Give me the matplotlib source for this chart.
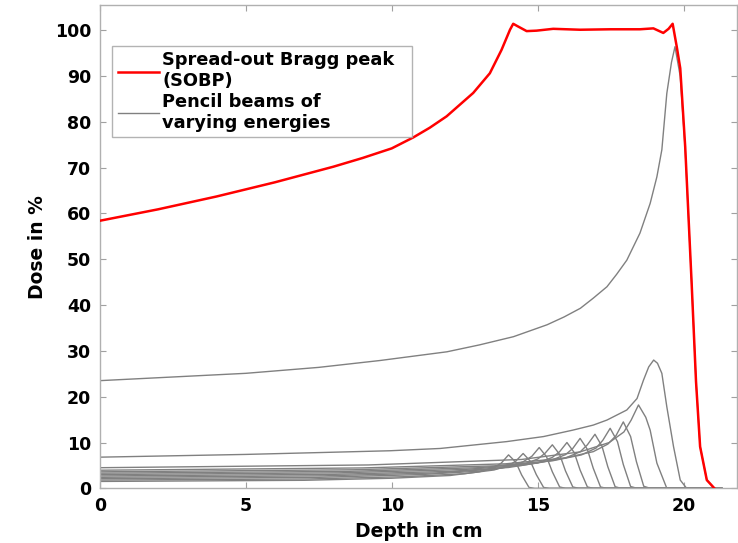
import matplotlib
matplotlib.use("Agg")
import matplotlib.pyplot as plt

# depth (cm) / dose (%), one pair per pencil beam
b01_depth = [0, 7.0, 10.0, 12.0, 13.0, 13.5, 13.75, 14.0, 14.25, 14.45, 14.7, 14.9, 21.3]
b01_dose = [1.5, 1.75, 2.2, 2.8, 3.6, 4.5, 5.5, 7.3, 5.7, 2.9, 0.2, 0, 0]

b02_depth = [0, 7.2, 10.5, 12.5, 13.5, 14.0, 14.25, 14.5, 14.75, 14.95, 15.2, 15.4, 21.3]
b02_dose = [1.8, 2.05, 2.55, 3.2, 4.0, 4.95, 5.95, 7.6, 5.9, 3.0, 0.2, 0, 0]

b03_depth = [0, 7.5, 11.0, 13.0, 14.0, 14.5, 14.8, 15.05, 15.3, 15.5, 15.75, 15.95, 21.3]
b03_dose = [2.1, 2.4, 3.0, 3.75, 4.7, 5.8, 7.0, 8.9, 6.9, 3.6, 0.3, 0, 0]

b04_depth = [0, 7.7, 11.5, 13.5, 14.5, 15.0, 15.25, 15.5, 15.75, 15.95, 16.2, 16.4, 21.3]
b04_dose = [2.4, 2.73, 3.35, 4.2, 5.2, 6.4, 7.65, 9.5, 7.4, 3.8, 0.3, 0, 0]

b05_depth = [0, 8.0, 12.0, 14.0, 15.0, 15.5, 15.75, 16.0, 16.25, 16.45, 16.7, 16.9, 21.3]
b05_dose = [2.7, 3.05, 3.7, 4.55, 5.55, 6.75, 8.0, 10.0, 7.8, 4.0, 0.3, 0, 0]

b06_depth = [0, 8.2, 12.45, 14.45, 15.45, 15.95, 16.2, 16.45, 16.7, 16.9, 17.15, 17.35, 21.3]
b06_dose = [3.0, 3.38, 4.1, 5.0, 6.1, 7.35, 8.7, 10.9, 8.5, 4.4, 0.3, 0, 0]

b07_depth = [0, 8.5, 12.96, 14.96, 15.96, 16.46, 16.7, 16.96, 17.2, 17.4, 17.65, 17.85, 21.3]
b07_dose = [3.3, 3.7, 4.5, 5.5, 6.65, 8.0, 9.5, 11.8, 9.2, 4.7, 0.35, 0, 0]

b08_depth = [0, 8.7, 13.5, 15.5, 16.5, 17.0, 17.23, 17.48, 17.73, 17.93, 18.18, 18.4, 21.3]
b08_dose = [3.6, 4.05, 4.9, 6.0, 7.3, 8.8, 10.5, 13.1, 10.2, 5.2, 0.4, 0, 0]

b09_depth = [0, 9.0, 13.9, 15.9, 16.9, 17.4, 17.68, 17.93, 18.18, 18.38, 18.63, 18.85, 21.3]
b09_dose = [3.95, 4.45, 5.35, 6.6, 8.0, 9.65, 11.5, 14.5, 11.3, 5.8, 0.45, 0, 0]

b10_depth = [0, 9.2, 14.45, 16.45, 17.45, 17.95, 18.2, 18.45, 18.7, 18.85, 19.08, 19.42, 21.3]
b10_dose = [4.5, 5.1, 6.3, 7.95, 10.0, 12.3, 14.9, 18.2, 15.5, 12.7, 5.5, 0, 0]

b11_depth = [0, 2.5, 5, 7.5, 9.94, 11.66, 13.94, 15.2, 16.2, 16.9, 17.37, 18.05, 18.4,
             18.62, 18.8, 18.97, 19.1, 19.25, 19.42, 19.65, 19.88, 20.1, 21.3]
b11_dose = [6.8, 7.1, 7.4, 7.8, 8.2, 8.7, 10.2, 11.3, 12.7, 13.8, 14.9, 17.1, 19.6,
            23.6, 26.5, 28.0, 27.3, 25.1, 17.8, 9.1, 1.8, 0, 0]

b12_depth = [0, 2.5, 5, 7.5, 9.6, 11.89, 13.0, 14.17, 15.32, 15.9, 16.46, 16.9, 17.37,
             17.7, 18.05, 18.5, 18.85, 19.08, 19.25, 19.42, 19.58, 19.7, 19.88, 20.05,
             20.27, 20.42, 20.56, 20.79, 21.05, 21.3]
b12_dose = [23.5, 24.3, 25.1, 26.4, 27.9, 29.8, 31.3, 33.1, 35.7, 37.4, 39.3, 41.5, 44.0,
            46.7, 49.8, 55.7, 62.2, 68.0, 73.9, 86.2, 93.0, 96.4, 89.9, 74.0,
            44.8, 23.3, 9.1, 1.8, 0, 0]

# spread-out Bragg peak
sobp_depth = [0, 2, 4, 6, 8, 9, 10, 10.74, 11.3, 11.88, 12.79, 13.36, 13.76, 14.05,
              14.16, 14.3, 14.62, 14.96, 15.53, 16.45, 17.5, 18.5, 18.96, 19.3, 19.48,
              19.62, 19.76, 19.88, 20.05, 20.27, 20.42, 20.56, 20.79, 21.05]
sobp_dose = [58.4, 60.9, 63.7, 66.8, 70.2, 72.1, 74.2, 76.6, 78.7, 81.2, 86.3, 90.6, 95.7,
             100.1, 101.4, 100.9, 99.8, 99.9, 100.3, 100.1, 100.2, 100.2, 100.4, 99.4,
             100.3, 101.4, 96.4, 91.7, 74.5, 44.8, 23.3, 9.1, 1.8, 0]

beams = [
    (b01_depth, b01_dose), (b02_depth, b02_dose), (b03_depth, b03_dose),
    (b04_depth, b04_dose), (b05_depth, b05_dose), (b06_depth, b06_dose),
    (b07_depth, b07_dose), (b08_depth, b08_dose), (b09_depth, b09_dose),
    (b10_depth, b10_dose), (b11_depth, b11_dose), (b12_depth, b12_dose),
]

x_ticks = [0, 5, 10, 15, 20]
y_ticks = [0, 10, 20, 30, 40, 50, 60, 70, 80, 90, 100]

fig = plt.figure(figsize=(7.38, 5.43), dpi=100)
ax = fig.add_axes([0.1351, 0.1007, 0.8642, 0.8901])

grey = "#808080"
for i, (d, v) in enumerate(beams):
    ax.plot(d, v, color=grey, lw=1.0,
            label="Pencil beams of\nvarying energies" if i == 0 else None)
ax.plot(sobp_depth, sobp_dose, color="#ff0000", lw=1.8,
        label="Spread-out Bragg peak  \n(SOBP)", zorder=5)

ax.set_xlim(0, 21.84)
ax.set_ylim(0, 105.5)
ax.set_xticks(x_ticks)
ax.set_yticks(y_ticks)
ax.tick_params(direction="in", top=True, right=True, length=4, color="#a0a0a0",
               labelsize=12.5, pad=6)
for lab in ax.get_xticklabels() + ax.get_yticklabels():
    lab.set_fontweight("bold")
for s in ax.spines.values():
    s.set_color("#b0b0b0")
    s.set_linewidth(1.0)

ax.set_xlabel("Depth in cm", fontsize=13.5, fontweight="bold", labelpad=5)
ax.set_ylabel("Dose in %", fontsize=13.5, fontweight="bold", labelpad=6)

h, l = ax.get_legend_handles_labels()
leg = ax.legend(h[::-1], l[::-1], loc="upper left", bbox_to_anchor=(0.02, 0.915),
                prop={"weight": "bold", "size": 12.8}, frameon=True, fancybox=False,
                edgecolor="#a0a0a0", handlelength=2.3, handletextpad=0.2,
                borderpad=0.3, labelspacing=0.15, borderaxespad=0)
leg.get_frame().set_linewidth(1.0)

plt.savefig("out.png", dpi=100)
